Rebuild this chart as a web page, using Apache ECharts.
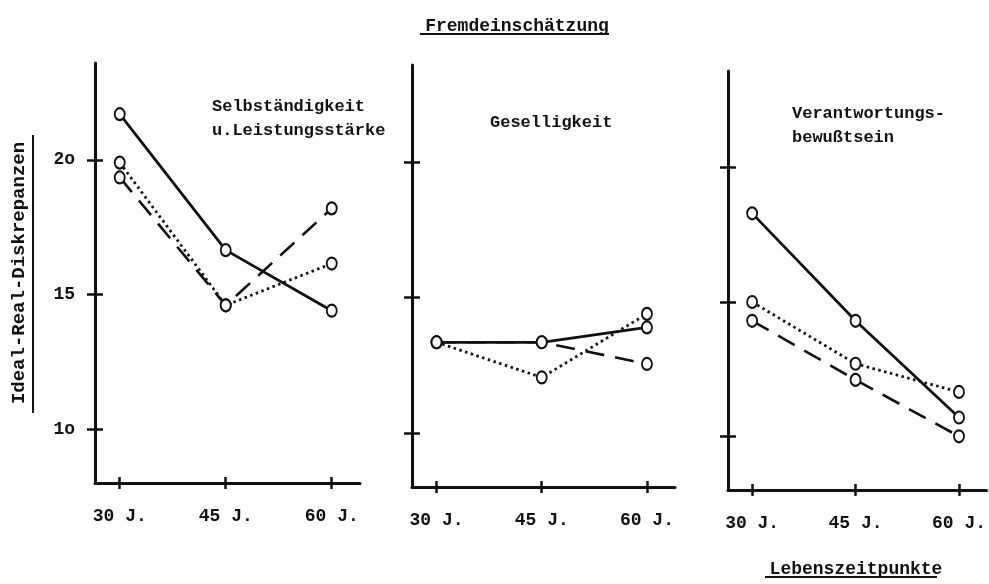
<!DOCTYPE html>
<html>
<head>
<meta charset="utf-8">
<script src="https://cdn.jsdelivr.net/npm/echarts@6/dist/echarts.min.js"></script>
<style>
  html, body { margin: 0; padding: 0; background: #fff; }
  #chart { width: 989px; height: 584px; }
</style>
</head>
<body>
<div id="chart"></div>
<script>
// Lebenszeitpunkte (x) und Achsenbeschriftungen
var ages = [30, 45, 60];
var xTickLabels = ['30 J.', '45 J.', '60 J.'];
var yTicks = [10, 15, 20];
var yTickLabels = ['1o', '15', '2o'];

var panelTitles = ['Selbständigkeit\nu.Leistungsstärke', 'Geselligkeit', 'Verantwortungs-\nbewußtsein'];

// Werte je Panel: durchgezogen, gepunktet, gestrichelt
var selbSolid = [21.7, 16.65, 14.4];
var selbDotted = [19.9, 14.6, 16.15];
var selbDashed = [19.35, 14.6, 18.2];

var gesSolid = [13.35, 13.35, 13.9];
var gesDotted = [13.35, 12.05, 14.4];
var gesDashed = [13.35, 13.35, 12.55];

var verSolid = [18.3, 14.3, 10.7];
var verDotted = [15.0, 12.7, 11.65];
var verDashed = [14.3, 12.1, 10.0];

var panels = [
  [selbSolid, selbDotted, selbDashed],
  [gesSolid, gesDotted, gesDashed],
  [verSolid, verDotted, verDashed]
];

var FONT = 'Liberation Mono';
var INK = '#111';

var grids = [
  {left: 95, top: 63, width: 265, height: 420},
  {left: 412, top: 65, width: 263, height: 422},
  {left: 728, top: 71, width: 261, height: 419}
];

var xAxes = [], yAxes = [], series = [];
var styles = [
  {type: 'solid', width: 2.8},
  {type: [2.5, 3.5], width: 2.8},
  {type: [19, 11], width: 2.6}
];

grids.forEach(function (g, i) {
  // x axis, ticks pointing down
  xAxes.push({
    type: 'value', gridIndex: i, min: 26.5, max: 64, position: 'bottom',
    axisLine: {onZero: false, lineStyle: {color: INK, width: 3}},
    axisTick: {show: true, inside: false, length: 6, customValues: ages, lineStyle: {color: INK, width: 2.5}},
    axisLabel: {
      customValues: ages, margin: 24, color: INK,
      fontFamily: FONT, fontWeight: 'bold', fontSize: 18,
      formatter: function (v) { return xTickLabels[ages.indexOf(v)]; }
    },
    splitLine: {show: false}
  });
  // same axis again, only for the upper half of the ticks
  xAxes.push({
    type: 'value', gridIndex: i, min: 26.5, max: 64, position: 'bottom', offset: 0,
    axisLine: {show: false, onZero: false},
    axisTick: {show: true, inside: true, length: 6, customValues: ages, lineStyle: {color: INK, width: 2.5}},
    axisLabel: {show: false},
    splitLine: {show: false}
  });
  yAxes.push({
    type: 'value', gridIndex: i, min: 8, max: 23.6, position: 'left',
    name: i === 0 ? 'Ideal-Real-Diskrepanzen' : '',
    nameLocation: 'middle', nameRotate: 90, nameGap: 66,
    nameTextStyle: {color: INK, fontFamily: FONT, fontWeight: 'bold', fontSize: 19},
    axisLine: {onZero: false, lineStyle: {color: INK, width: 3}},
    axisTick: {show: true, inside: false, length: 8, customValues: yTicks, lineStyle: {color: INK, width: 2.5}},
    axisLabel: {
      show: i === 0, customValues: yTicks, margin: 20, color: INK,
      fontFamily: FONT, fontWeight: 'bold', fontSize: 18,
      formatter: function (v) { return yTickLabels[yTicks.indexOf(v)]; }
    },
    splitLine: {show: false}
  });
  yAxes.push({
    type: 'value', gridIndex: i, min: 8, max: 23.6, position: 'left', offset: 0,
    axisLine: {show: false, onZero: false},
    axisTick: {show: true, inside: true, length: 8, customValues: yTicks, lineStyle: {color: INK, width: 2.5}},
    axisLabel: {show: false},
    splitLine: {show: false}
  });

  panels[i].forEach(function (vals, k) {
    series.push({
      type: 'line',
      xAxisIndex: 2 * i, yAxisIndex: 2 * i,
      data: ages.map(function (a, j) { return [a, vals[j]]; }),
      symbol: 'emptyCircle', symbolSize: [10, 12], showSymbol: true,
      itemStyle: {color: INK, borderColor: INK, borderWidth: 2.8},
      lineStyle: {color: INK, width: styles[k].width, type: styles[k].type},
      z: 3 - k
    });
  });
});

var titleStyle = {color: INK, fontFamily: FONT, fontWeight: 'bold', fontSize: 17, lineHeight: 24};

var chart = echarts.init(document.getElementById('chart'));
chart.setOption({
  backgroundColor: '#fff',
  animation: false,
  title: [
    {text: 'Fremdeinschätzung', left: 512, top: 12, textAlign: 'center',
      textStyle: {color: INK, fontFamily: FONT, fontWeight: 'bold', fontSize: 18}},
    {text: panelTitles[0], left: 207, top: 90, textStyle: titleStyle},
    {text: panelTitles[1], left: 485, top: 106, textStyle: titleStyle},
    {text: panelTitles[2], left: 787, top: 97, textStyle: titleStyle},
    {text: 'Lebenszeitpunkte', left: 851, top: 555, textAlign: 'center',
      textStyle: {color: INK, fontFamily: FONT, fontWeight: 'bold', fontSize: 18}}
  ],
  graphic: [
    {type: 'line', shape: {x1: 420, y1: 34, x2: 609, y2: 34}, style: {stroke: INK, lineWidth: 2}},
    {type: 'line', shape: {x1: 765, y1: 577, x2: 937, y2: 577}, style: {stroke: INK, lineWidth: 2}},
    {type: 'line', shape: {x1: 33, y1: 135, x2: 33, y2: 413}, style: {stroke: INK, lineWidth: 2}}
  ],
  grid: grids,
  xAxis: xAxes,
  yAxis: yAxes,
  series: series
});
</script>
</body>
</html>
